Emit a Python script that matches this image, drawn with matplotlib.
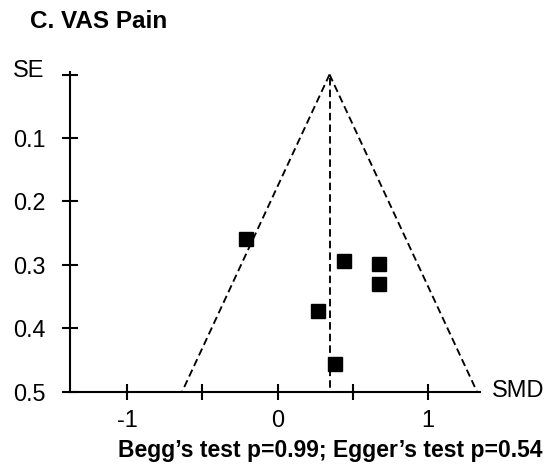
import matplotlib
matplotlib.use("Agg")
import matplotlib.pyplot as plt
import numpy as np

plt.rcParams['font.family'] = ['Liberation Sans', 'DejaVu Sans']
plt.rcParams['axes.unicode_minus'] = False

title = "C. VAS Pain"
footer = "Begg\u2019s test p=0.99; Egger\u2019s test p=0.54"
smd = [-0.21, 0.44, 0.675, 0.675, 0.27, 0.38]
se = [0.26, 0.294, 0.298, 0.33, 0.373, 0.457]
pooled = 0.345
se_max = 0.5
xticks = [-1, -0.5, 0, 0.5, 1]
xticklabels = ["-1", "", "0", "", "1"]
yticks = [0, 0.1, 0.2, 0.3, 0.4, 0.5]
yticklabels = ["", "0.1", "0.2", "0.3", "0.4", "0.5"]

fig = plt.figure(figsize=(5.5, 4.71), dpi=100)
ax = fig.add_axes([70/550, 1-391.7/471, 410/550, (391.7-72)/471])

se_line = np.array([0.0, se_max])
ls = (0, (4.0, 2.2))
lw = 1.35
ax.plot(pooled - 1.96*se_line, se_line, color='black', lw=lw, linestyle=ls, clip_on=False)
ax.plot(pooled + 1.96*se_line, se_line, color='black', lw=lw, linestyle=ls, clip_on=False)
ax.plot([pooled, pooled], [0.005, se_max], color='black', lw=lw, linestyle=ls, clip_on=False)

ax.plot(smd, se, linestyle='none', marker='s', markersize=9.5, color='black', clip_on=False)

ax.set_xlim(-1.38, 1.345)
ax.set_ylim(0.5, -0.004)
for s in ['top', 'right']:
    ax.spines[s].set_visible(False)
for s in ['left', 'bottom']:
    ax.spines[s].set_linewidth(1.5)
ax.set_xticks(xticks)
ax.set_xticklabels(xticklabels)
ax.set_yticks(yticks)
ax.set_yticklabels(yticklabels)
ax.tick_params(axis='both', direction='inout', length=11, width=1.5, labelsize=16.8, color='black')
ax.tick_params(axis='y', pad=12)
ax.tick_params(axis='x', pad=7)

fig.text(492/550, 1-391/471, "SMD", fontsize=17, ha='left', va='center')
fig.text(13/550, 1-71/471, "SE", fontsize=17, ha='left', va='center')
fig.text(30/550, 1-22/471, title, fontsize=17.5, fontweight='bold', ha='left', va='center')
fig.text(330/550, 1-450/471, footer, fontsize=16.5, fontweight='bold', ha='center', va='center')

fig.savefig("out.png", dpi=100)
